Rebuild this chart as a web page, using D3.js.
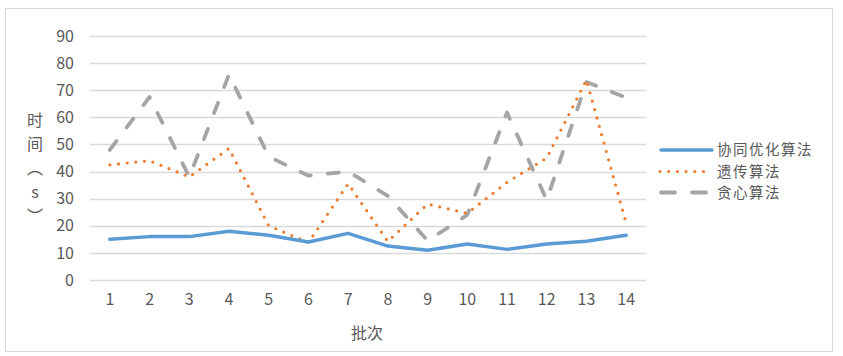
<!DOCTYPE html>
<html><head><meta charset="utf-8">
<script src="https://cdn.jsdelivr.net/npm/d3@7"></script>
<style>body{margin:0;background:#fff}svg{display:block}text{font-family:"Noto Sans CJK SC","Noto Sans",sans-serif;fill:#595959}</style>
</head><body>
<script>
const categories = [1,2,3,4,5,6,7,8,9,10,11,12,13,14];
const seriesNames = ["协同优化算法","遗传算法","贪心算法"];
const coop = [15,16,16,18,16.5,14,17.2,12.5,11,13.3,11.3,13.3,14.3,16.5];
const genetic = [42.5,44,38,48.5,20,13.8,35.5,14.2,28,24.6,36,45,73.8,21];
const greedy = [48,67.5,38,75.8,45.5,38.5,40,31,14.5,24,61.8,29.5,73,67.3];
const yTicks = [0,10,20,30,40,50,60,70,80,90];
const xTitle = "批次";
const yTitle = "时间（s）";

const W = 843, H = 356;
const svg = d3.select("body").append("svg").attr("width", W).attr("height", H);
svg.append("rect").attr("x",5.5).attr("y",8.5).attr("width",827).attr("height",343)
  .attr("fill","#fff").attr("stroke","#d9d9d9");

const x = d3.scaleBand().domain(categories).range([90,646]);
const y = d3.scaleLinear().domain([0,90]).range([280,36]);

svg.append("g").selectAll("line").data(yTicks).join("line")
  .attr("x1",90).attr("x2",646).attr("y1",d=>Math.round(y(d))+0.5).attr("y2",d=>Math.round(y(d))+0.5)
  .attr("stroke","#d9d9d9").attr("stroke-width",1.3);

const ya = svg.append("g").attr("transform","translate(80,0)")
  .call(d3.axisLeft(y).tickValues(yTicks).tickSize(0).tickPadding(6));
ya.select(".domain").remove();
ya.selectAll("text").attr("font-size",16).style("fill","#595959").attr("font-family",'"Noto Sans CJK SC",sans-serif');

const xa = svg.append("g").attr("transform","translate(0,294)")
  .call(d3.axisBottom(x).tickSize(0).tickPadding(0));
xa.select(".domain").remove();
xa.selectAll("text").attr("font-size",16).style("fill","#595959").attr("font-family",'"Noto Sans CJK SC",sans-serif');

svg.append("text").attr("x",367).attr("y",339).attr("text-anchor","middle").attr("font-size",16).text(xTitle);
svg.append("text").attr("x",35).attr("y",112).attr("font-size",16)
  .style("writing-mode","vertical-rl").style("text-orientation","upright")
  .style("letter-spacing","8px").text(yTitle);

const cx = d => x(d) + x.bandwidth()/2;
const line = d3.line().x((d,i)=>cx(categories[i])).y(d=>y(d));

const styles = [
  {data: coop, color:"#5b9bd5", width:3.5, dash:null, cap:"round"},
  {data: genetic, color:"#ed7d31", width:3.2, dash:"0,8.7", cap:"round"},
  {data: greedy, color:"#a5a5a5", width:3.8, dash:"11,17", cap:"round"}
];
[styles[2], styles[1], styles[0]].forEach(s=>{
  svg.append("path").datum(s.data).attr("d",line).attr("fill","none")
    .attr("stroke",s.color).attr("stroke-width",s.width).attr("stroke-linecap",s.cap)
    .attr("stroke-linejoin","round").attr("stroke-dasharray",s.dash);
});

const lg = svg.append("g");
const ly = [150,171.5,192.5];
styles.forEach((s,i)=>{
  lg.append("line").attr("x1",s.dash==="0,8.7"?660:661).attr("x2",712).attr("y1",ly[i]).attr("y2",ly[i])
    .attr("stroke",s.color).attr("stroke-width",s.width).attr("stroke-linecap",s.cap)
    .attr("stroke-dasharray",s.dash==="11,17"?"14,17":s.dash);
  lg.append("text").attr("x",717).attr("y",ly[i]).attr("dy","0.35em").attr("font-size",14.5)
    .style("letter-spacing","1.5px").text(seriesNames[i]);
});
</script>
</body></html>
